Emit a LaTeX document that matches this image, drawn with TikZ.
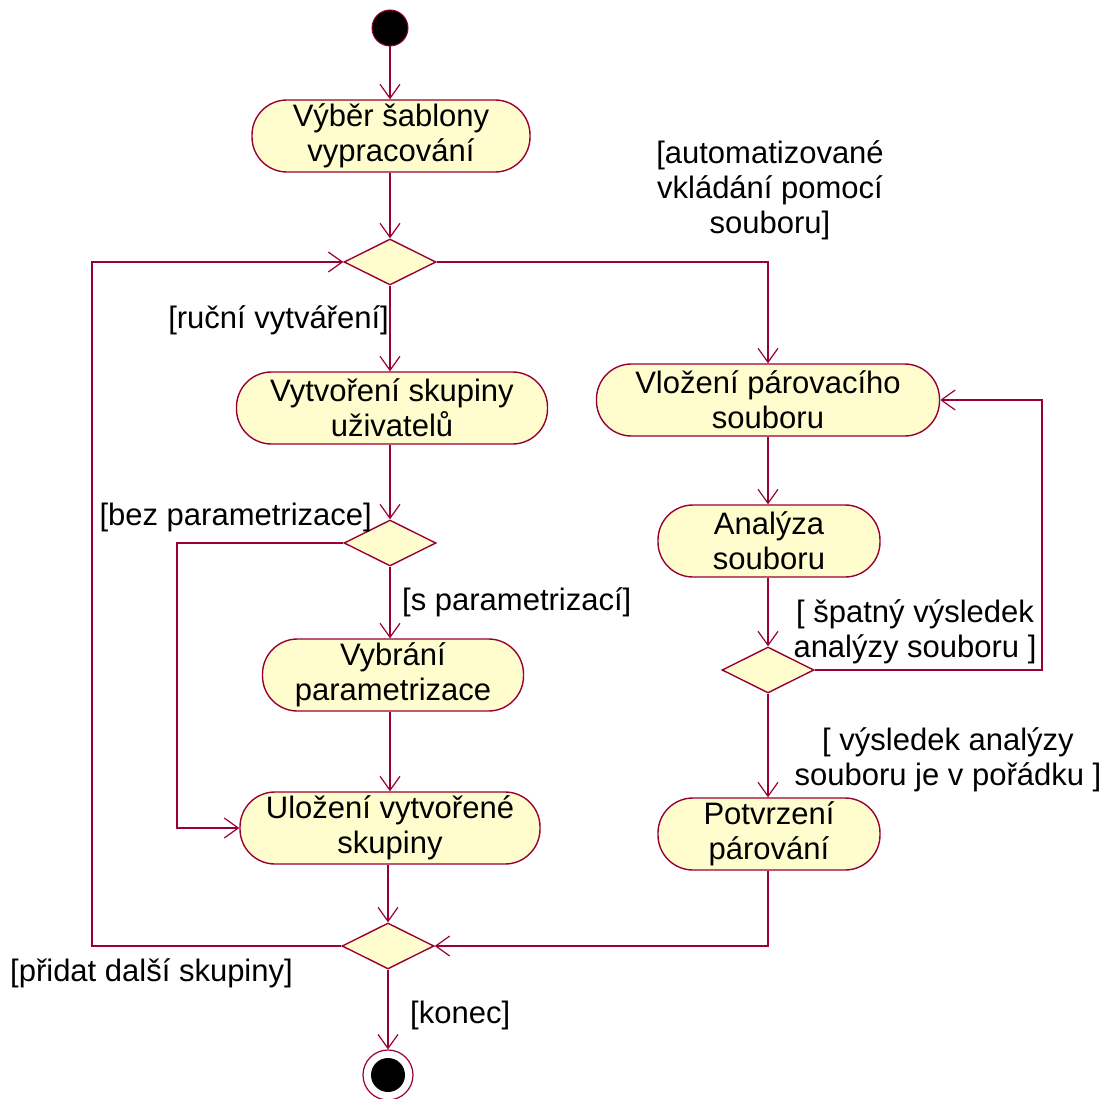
\documentclass[tikz,border=0pt]{standalone}
\usepackage{fontspec}
\setmainfont{Liberation Sans}
\usetikzlibrary{shapes.geometric,arrows.meta}
\definecolor{umlline}{RGB}{153,0,51}
\definecolor{umlfill}{RGB}{255,252,206}
\begin{document}
\begin{tikzpicture}[x=1pt,y=-1pt,
  every node/.style={font=\fontsize{31}{35}\selectfont},
  activity/.style={draw=umlline,fill=umlfill,line width=1.4pt,rounded corners=35pt,
    minimum height=72pt,inner sep=0pt,align=center},
  decision/.style={draw=umlline,fill=umlfill,line width=1.4pt,diamond,
    minimum width=92pt,minimum height=46pt,inner sep=0pt},
  flow/.style={draw=umlline,line width=1.4pt,-{Straight Barb[length=14pt,width=20pt,line width=1.2pt]}},
  guard/.style={inner sep=0pt,align=center}]
\useasboundingbox (0,0) rectangle (1111,1099);

% nodes of the left branch
\node[circle,fill=black,draw=umlline,line width=1pt,minimum size=36pt,inner sep=0pt] (start) at (390,28) {};
\node[activity,minimum width=278pt] (vyber) at (391,136) {Výběr šablony\\vypracování};
\node[decision] (d1) at (390,262) {};
\node[activity,minimum width=311pt] (vytv) at (392,408) {Vytvoření skupiny\\uživatelů};
\node[decision] (d2) at (390,543) {};
\node[activity,minimum width=261pt] (vybr) at (393,675) {Vybrání\\parametrizace};
\node[activity,minimum width=300pt] (ulo) at (390,828) {Uložení vytvořené\\skupiny};
\node[decision] (d3) at (388,946) {};
\node[circle,draw=umlline,fill=white,line width=1.2pt,minimum size=50pt,inner sep=0pt] (fin) at (388,1075) {};
\node[circle,fill=black,minimum size=34pt,inner sep=0pt] (findot) at (fin.center) {};

% nodes of the right branch
\node[activity,minimum width=343pt] (vloz) at (768,400) {Vložení párovacího\\souboru};
\node[activity,minimum width=222pt] (anal) at (769,541) {Analýza\\souboru};
\node[decision] (d4) at (768,670) {};
\node[activity,minimum width=222pt] (potv) at (769,834) {Potvrzení\\párování};

% corner points of the orthogonal connectors
\coordinate (c2) at (177,828);
\coordinate (c3) at (92,946);
\coordinate (c4) at (1042,670);
\coordinate (c5) at (768,946);

% connectors, kept vertical between stacked nodes
\draw[flow] (start) -- (start |- vyber.north);
\draw[flow] (vyber.south -| d1) -- (d1.north);
\draw[flow] (d1.south) -- (d1 |- vytv.north);
\draw[flow] (d1.east) -| (vloz.north);
\draw[flow] (vytv.south -| d2) -- (d2.north);
\draw[flow] (d2.south) -- (d2 |- vybr.north);
\draw[flow] (d2.west) -| (c2) -- (ulo.west);
\draw[flow] (vybr.south -| ulo) -- (ulo.north);
\draw[flow] (ulo.south -| d3) -- (d3.north);
\draw[flow] (d3.west) -- (c3) |- (d1.west);
\draw[flow] (d3.south) -- (fin.north);
\draw[flow] (vloz.south) -- (vloz |- anal.north);
\draw[flow] (anal.south -| d4) -- (d4.north);
\draw[flow] (d4.south) -- (d4 |- potv.north);
\draw[flow] (d4.east) -- (c4) |- (vloz.east);
\draw[flow] (potv.south -| c5) -- (c5) -- (d3.east);

% guard labels
\node[guard] (g1) at (770,190) {[automatizované\\vkládání pomocí\\souboru]};
\node[guard,anchor=east] (g2) at (389,320) {[ruční vytváření]};
\node[guard,anchor=east] (g3) at (372,517) {[bez parametrizace]};
\node[guard,anchor=west] (g4) at (402,602) {[s parametrizací]};
\node[guard] (g5) at (915,632) {[ špatný výsledek\\analýzy souboru ]};
\node[guard] (g6) at (948,760) {[ výsledek analýzy\\souboru je v pořádku ]};
\node[guard,anchor=west] (g7) at (10,973) {[přidat další skupiny]};
\node[guard,anchor=west] (g8) at (410,1015) {[konec]};
\end{tikzpicture}
\end{document}
